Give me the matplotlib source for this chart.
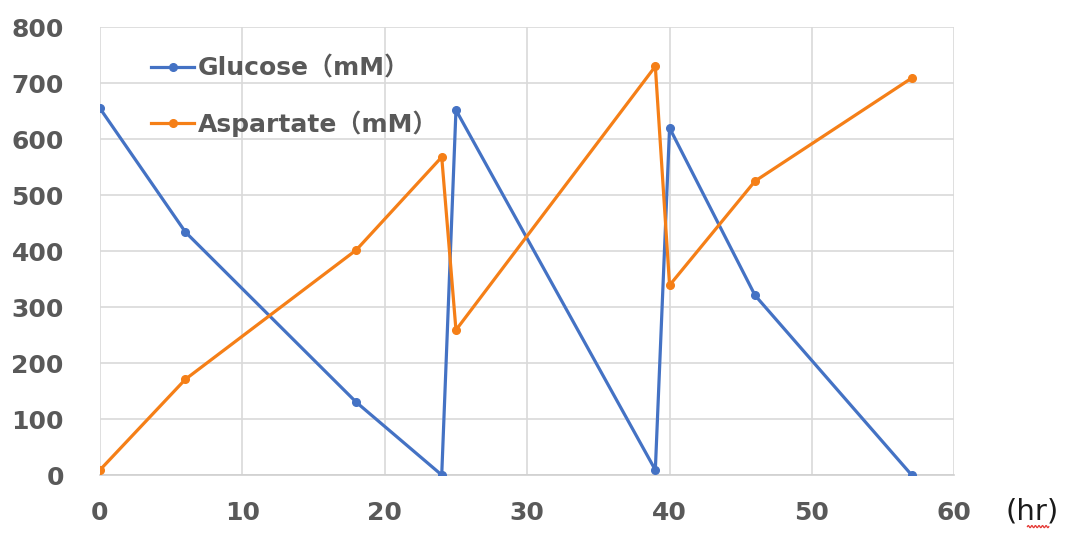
import matplotlib
matplotlib.use("Agg")
import matplotlib.pyplot as plt
import numpy as np

plt.rcParams['font.family'] = ['DejaVu Sans', 'Noto Sans CJK JP']

# Sampling times (hr) and concentrations (mM)
time_hr = [0, 6, 18, 24, 25, 39, 40, 46, 57]
glucose_mM = [655, 434, 130, 0, 652, 9, 620, 321, 0]
aspartate_mM = [9, 171, 402, 568, 259, 730, 339, 525, 709]

x_ticks = [0, 10, 20, 30, 40, 50, 60]
y_ticks = [0, 100, 200, 300, 400, 500, 600, 700, 800]

blue = '#4472C4'
orange = '#F57F17'
label_gray = '#595959'

fig = plt.figure(figsize=(10.68, 5.33), dpi=100)
ax = fig.add_axes([0.0936, 0.1088, 0.8, 0.8402])

ax.plot(time_hr, glucose_mM, color=blue, lw=2.3, marker='o', ms=5.5,
        label='Glucose（mM）', zorder=3)
ax.plot(time_hr, aspartate_mM, color=orange, lw=2.3, marker='o', ms=5.5,
        label='Aspartate（mM）', zorder=3)

ax.set_xlim(0, 60)
ax.set_ylim(0, 800)
ax.set_xticks(x_ticks)
ax.set_yticks(y_ticks)
ax.grid(True, color='#d9d9d9', lw=1.2)
ax.set_axisbelow(True)
for side in ['top', 'right', 'left']:
    ax.spines[side].set_visible(False)
ax.spines['bottom'].set_color('#d0d0d0')
ax.spines['bottom'].set_linewidth(1.2)
ax.tick_params(length=0, labelsize=18, colors=label_gray)
ax.tick_params(axis='x', pad=19)
ax.tick_params(axis='y', pad=26)
for lbl in ax.get_xticklabels() + ax.get_yticklabels():
    lbl.set_fontweight('bold')

leg = ax.legend(loc='upper left', bbox_to_anchor=(0.033, 0.985), frameon=False,
                handlelength=1.75, handletextpad=0.15, labelspacing=1.2,
                prop={'size': 18, 'weight': 'bold'})
for t in leg.get_texts():
    t.set_color(label_gray)

# axis unit label placed to the right of the last tick
fig.text(0.9665, 0.04, '(hr)', fontsize=21, color='#1a1a1a',
         ha='center', va='center')
# red squiggle under the unit label
sx = np.linspace(0.962, 0.982, 60)
sy = 0.012 + 0.002 * np.sin(np.linspace(0, 12 * np.pi, 60))
fig.add_artist(matplotlib.lines.Line2D(sx, sy, color='#e53935', lw=0.9,
                                       transform=fig.transFigure))

fig.savefig('out.png', dpi=100)
